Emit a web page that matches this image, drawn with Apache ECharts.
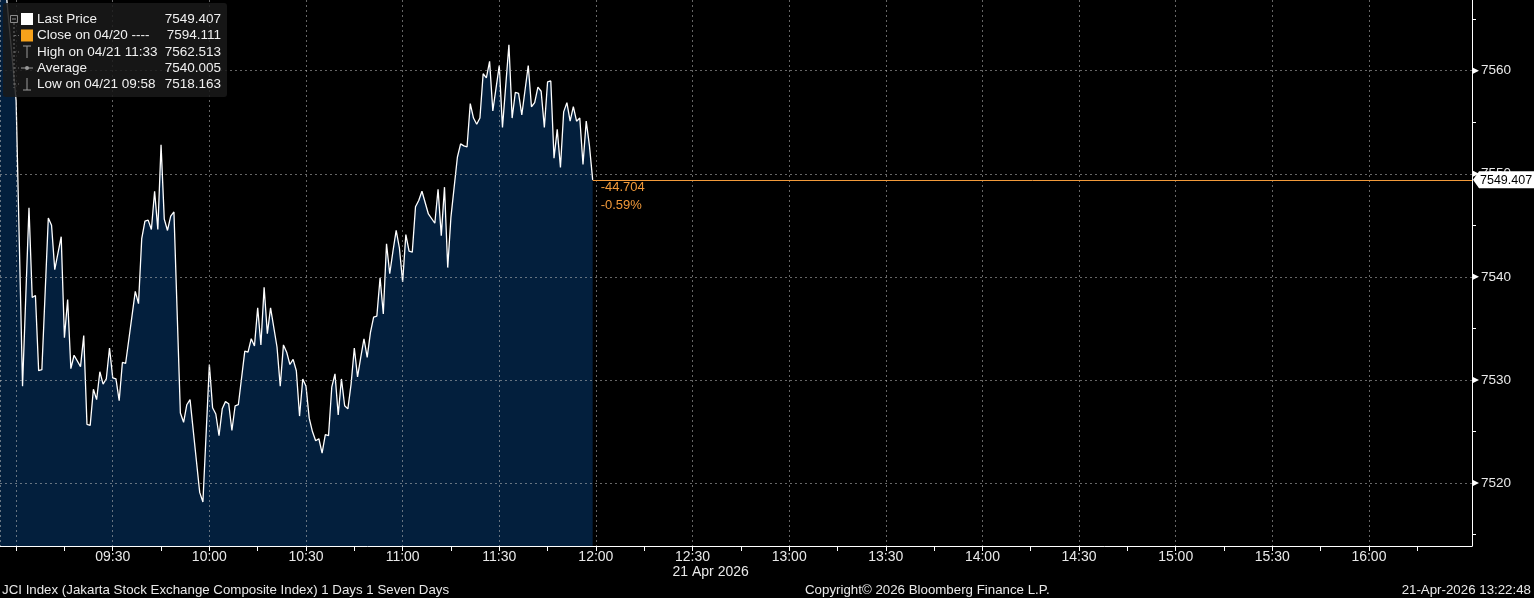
<!DOCTYPE html>
<html>
<head>
<meta charset="utf-8">
<script src="https://cdn.jsdelivr.net/npm/echarts@6/dist/echarts.min.js"></script>
<style>
html,body{margin:0;padding:0;background:#000;}
#c{width:1534px;height:598px;}
</style>
</head>
<body>
<div id="c"></div>
<script>
// ---------- data ----------
const priceTimes = [
 '08:50','09:00','09:02','09:04','09:05','09:06','09:07','09:08','09:10','09:11','09:12','09:14','09:15','09:16','09:17','09:18',
 '09:20','09:21','09:22','09:23','09:24','09:25','09:26','09:27','09:28','09:29','09:30','09:31','09:32','09:33','09:34',
 '09:37','09:38','09:39','09:40','09:41','09:42','09:43','09:44','09:45','09:46','09:47','09:48','09:49',
 '09:51','09:52','09:53','09:54','09:56','09:57','09:58',
 '10:00','10:01','10:02','10:03','10:04','10:05','10:06','10:07','10:08','10:09',
 '10:11','10:12','10:13','10:14','10:15','10:16','10:17','10:18','10:19',
 '10:21','10:22','10:23','10:24','10:25','10:26','10:27','10:28','10:29','10:30',
 '10:31','10:32','10:33','10:34','10:35','10:36','10:37','10:38','10:39','10:40',
 '10:41','10:42','10:43','10:44','10:45','10:46','10:47','10:48','10:49','10:50',
 '10:51','10:52','10:53','10:54','10:55','10:56','10:57','10:58','10:59','11:00',
 '11:01','11:02','11:03','11:04','11:05','11:06','11:08','11:10','11:11','11:12','11:13','11:14','11:15',
 '11:17','11:18','11:19','11:20','11:21','11:22','11:23','11:24','11:25','11:26','11:27','11:28',
 '11:30','11:31','11:33','11:34','11:35','11:36','11:37','11:39','11:40',
 '11:41','11:42','11:43','11:44','11:45','11:46','11:47','11:48','11:49','11:50',
 '11:51','11:52','11:53','11:54','11:55','11:56','11:57','11:58','11:59'
];
const prices = [
 7591.0,7557.1,7529.4,7546.7,7538.0,7538.2,7530.9,7531.0,7545.7,7545.0,7540.7,7543.9,7534.1,7537.8,7531.1,7532.4,
 7531.3,7534.3,7525.7,7525.6,7529.1,7528.1,7530.8,7529.6,7530.1,7533.1,7530.2,7530.1,7528.0,7531.7,7531.6,
 7538.6,7537.4,7543.7,7545.4,7545.5,7544.6,7548.3,7544.6,7552.8,7545.6,7544.5,7545.9,7546.3,
 7526.8,7525.9,7527.6,7528.1,7522.1,7519.1,7518.163,
 7531.5,7527.3,7526.7,7524.6,7527.2,7527.9,7527.7,7525.1,7527.5,7527.6,
 7532.8,7532.7,7534.0,7533.3,7537.0,7533.4,7539.0,7534.5,7537.0,
 7533.2,7529.4,7533.4,7532.7,7531.5,7532.0,7530.9,7526.5,7530.1,7529.4,
 7526.3,7525.0,7524.1,7524.3,7522.9,7524.7,7524.6,7529.3,7530.6,7526.6,
 7530.1,7527.5,7527.2,7529.6,7533.1,7530.3,7532.2,7534.0,7532.2,7534.6,
 7536.1,7536.2,7539.9,7536.4,7543.2,7540.3,7542.5,7544.5,7542.8,7539.5,
 7544.1,7542.5,7542.4,7546.8,7547.4,7548.3,7546.1,7545.2,7548.5,7544.0,7548.7,7540.9,7545.8,
 7551.6,7552.9,7552.7,7552.6,7556.8,7555.4,7554.8,7555.4,7559.7,7559.3,7560.9,7556.1,
 7560.5,7554.5,7562.513,7555.4,7557.9,7557.8,7555.7,7560.5,7556.5,
 7556.9,7558.4,7558.0,7554.5,7558.9,7559.0,7551.5,7554.3,7550.6,7556.0,
 7556.9,7555.1,7556.5,7555.1,7555.4,7550.9,7555.1,7552.7,7549.407
];
const prevClose = 7594.111;
const xAxisStart = '08:55';
const xAxisEnd = '16:32';
const xLabelTimes = ['09:30','10:00','10:30','11:00','11:30','12:00','12:30','13:00','13:30','14:00','14:30','15:00','15:30','16:00'];
const xTickTimes = ['09:00','09:15','09:30','09:45','10:00','10:15','10:30','10:45','11:00','11:15','11:30','11:45','12:00','12:15','12:30','12:45',
  '13:00','13:15','13:30','13:45','14:00','14:15','14:30','14:45','15:00','15:15','15:30','15:45','16:00','16:15'];
const xGridTimes = ['08:55','09:00','09:30','10:00','10:30','11:00','11:30','12:00','12:30','13:00','13:30','14:00','14:30','15:00','15:30','16:00'];
const yMin = 7513.9, yMax = 7566.85;
const yLabelValues = [7520,7530,7540,7550,7560];
const yMinorValues = [7515,7520,7525,7530,7535,7540,7545,7550,7555,7560,7565];
const legendRows = [
  {label:'Last Price', value:'7549.407'},
  {label:'Close on 04/20 ----', value:'7594.111'},
  {label:'High on 04/21 11:33', value:'7562.513'},
  {label:'Average', value:'7540.005'},
  {label:'Low on 04/21 09:58', value:'7518.163'}
];
const dateLabel = '21 Apr 2026';
const footerLeft = 'JCI Index (Jakarta Stock Exchange Composite Index) 1 Days 1 Seven Days';
const footerMid = 'Copyright\u00A9 2026 Bloomberg Finance L.P.';
const footerRight = '21-Apr-2026 13:22:48';

// ---------- helpers ----------
const toMin = s => { const [h,m] = s.split(':').map(Number); return h*60+m; };
const fmt = v => { const h = Math.floor(v/60), m = Math.round(v - h*60); return String(h).padStart(2,'0')+':'+String(m).padStart(2,'0'); };
const FONT = '"Liberation Sans", Arial, sans-serif';
const ORANGE = '#f29a3a';

const seriesData = priceTimes.map((t,i)=>[toMin(t), prices[i]]);
const lastT = toMin(priceTimes[priceTimes.length-1]);
const lastV = prices[prices.length-1];
const xMin = toMin(xAxisStart), xMax = toMin(xAxisEnd);

const chart = echarts.init(document.getElementById('c'), null, {renderer:'canvas'});
chart.setOption({
  backgroundColor:'#000',
  animation:false,
  grid:{left:0, right:62, top:0, bottom:52, containLabel:false},
  xAxis:[{
    type:'value', min:xMin, max:xMax, position:'bottom',
    axisLine:{show:true, lineStyle:{color:'#ffffff', width:1}},
    axisTick:{show:true, length:5, customValues:xTickTimes.map(toMin), lineStyle:{color:'#ffffff'}},
    axisLabel:{show:true, customValues:xLabelTimes.map(toMin), formatter:v=>fmt(v), color:'#e8e8e8', fontSize:14, fontFamily:FONT, margin:4},
    splitLine:{show:false}
  },{
    type:'value', min:xMin, max:xMax, position:'top', z:3,
    axisLine:{show:false}, axisLabel:{show:false},
    axisTick:{show:false, customValues:xGridTimes.map(toMin)},
    splitLine:{show:true, lineStyle:{color:'rgba(185,185,185,0.55)', width:1, type:[2,3]}}
  }],
  yAxis:[{
    type:'value', min:yMin, max:yMax, position:'right',
    axisLine:{show:true, lineStyle:{color:'#ffffff', width:1}},
    axisTick:{show:true, inside:false, length:4, customValues:yMinorValues, lineStyle:{color:'#ffffff'}},
    axisLabel:{show:true, customValues:yLabelValues, color:'#e8e8e8', fontSize:13.5, fontFamily:FONT, margin:9, formatter:v=>String(Math.round(v))},
    splitLine:{show:false}
  },{
    type:'value', min:yMin, max:yMax, position:'left', z:3,
    axisLine:{show:false}, axisLabel:{show:false},
    axisTick:{show:false, customValues:yLabelValues},
    splitLine:{show:true, lineStyle:{color:'rgba(185,185,185,0.55)', width:1, type:[2,3]}}
  }],
  series:[{
    type:'line', xAxisIndex:0, yAxisIndex:0, data:seriesData,
    showSymbol:false, symbol:'none', smooth:false, clip:true, z:2,
    lineStyle:{color:'#ffffff', width:1.3},
    areaStyle:{color:'#031f3d', opacity:1},
    markLine:{
      silent:true, symbol:['none','none'], animation:false,
      lineStyle:{color:ORANGE, width:1, type:'solid'},
      label:{show:false},
      data:[[{coord:[lastT,lastV]},{coord:[xMax,lastV]}]]
    }
  }]
});

// ---------- overlay graphics positioned via the chart's scales ----------
const P = (x,y) => chart.convertToPixel({xAxisIndex:0, yAxisIndex:0}, [x,y]);
const g = [];
const [, yLast] = P(lastT, lastV);
const [xLastPt] = P(lastT, lastV);
const [xRight] = P(xMax, lastV);

// major tick arrows on the right axis
yLabelValues.forEach(v=>{
  const [, y] = P(xMin, v);
  g.push({type:'polygon', z:50, shape:{points:[[xRight, y-3.5],[xRight, y+3.5],[xRight+7, y]]}, style:{fill:'#ffffff'}});
});

// last price label box
g.push({type:'polygon', z:100, shape:{points:[[xRight+1, yLast],[xRight+7, yLast-8.5],[1534, yLast-8.5],[1534, yLast+8.5],[xRight+7, yLast+8.5]]}, style:{fill:'#ffffff'}});
g.push({type:'text', z:101, x:xRight+8, y:yLast+0.5, style:{text:lastV.toFixed(3), fill:'#000', font:'12.5px '+FONT, verticalAlign:'middle'}});

// change labels
const chg = lastV - prevClose;
g.push({type:'text', z:101, x:xLastPt+8, y:yLast+8, style:{text:chg.toFixed(3), fill:ORANGE, font:'13px '+FONT, verticalAlign:'middle'}});
g.push({type:'text', z:101, x:xLastPt+8, y:yLast+26, style:{text:(chg/prevClose*100).toFixed(2)+'%', fill:ORANGE, font:'13px '+FONT, verticalAlign:'middle'}});

// date label under 12:30
const [x1230] = P(toMin('12:30'), yMin);
g.push({type:'text', z:101, x:x1230-20, y:572, style:{text:dateLabel, fill:'#e8e8e8', font:'14px '+FONT, verticalAlign:'middle'}});

// footer
g.push({type:'text', z:101, x:2, y:590, style:{text:footerLeft, fill:'#e8e8e8', font:'13.3px '+FONT, verticalAlign:'middle'}});
g.push({type:'text', z:101, x:805, y:590, style:{text:footerMid, fill:'#e8e8e8', font:'13.3px '+FONT, verticalAlign:'middle'}});
g.push({type:'text', z:101, x:1531, y:590, style:{text:footerRight, fill:'#e8e8e8', font:'13.3px '+FONT, verticalAlign:'middle', align:'right'}});

// legend box
g.push({type:'rect', z:100, shape:{x:3, y:3, width:224, height:94, r:3}, style:{fill:'rgba(26,26,26,0.86)'}});
const rowY = [19, 35.5, 52, 68, 84];
// tree connector
g.push({type:'rect', z:101, shape:{x:10.5, y:15.5, width:7, height:7}, style:{fill:'none', stroke:'#8a8a8a', lineWidth:1}});
g.push({type:'line', z:101, shape:{x1:12, y1:19, x2:16, y2:19}, style:{stroke:'#8a8a8a', lineWidth:1}});
g.push({type:'line', z:101, shape:{x1:14, y1:23, x2:14, y2:88}, style:{stroke:'#6a6a6a', lineWidth:1, lineDash:[2,2]}});
rowY.slice(1).forEach(y=> g.push({type:'line', z:101, shape:{x1:14, y1:y, x2:19, y2:y}, style:{stroke:'#6a6a6a', lineWidth:1, lineDash:[2,2]}}));
// icons
g.push({type:'rect', z:101, shape:{x:21, y:13, width:12, height:12}, style:{fill:'#ffffff'}});
g.push({type:'rect', z:101, shape:{x:21, y:29.5, width:12, height:12}, style:{fill:'#f7a21b'}});
g.push({type:'line', z:101, shape:{x1:27, y1:46, x2:27, y2:58}, style:{stroke:'#9a9a9a', lineWidth:1}});
g.push({type:'line', z:101, shape:{x1:23, y1:46, x2:31, y2:46}, style:{stroke:'#9a9a9a', lineWidth:1}});
g.push({type:'line', z:101, shape:{x1:21, y1:68, x2:33, y2:68}, style:{stroke:'#9a9a9a', lineWidth:1}});
g.push({type:'circle', z:101, shape:{cx:27, cy:68, r:2}, style:{fill:'#9a9a9a'}});
g.push({type:'line', z:101, shape:{x1:27, y1:78, x2:27, y2:90}, style:{stroke:'#9a9a9a', lineWidth:1}});
g.push({type:'line', z:101, shape:{x1:23, y1:90, x2:31, y2:90}, style:{stroke:'#9a9a9a', lineWidth:1}});
legendRows.forEach((r,i)=>{
  g.push({type:'text', z:101, x:37, y:rowY[i], style:{text:r.label, fill:'#f0f0f0', font:'13.5px '+FONT, verticalAlign:'middle'}});
  g.push({type:'text', z:101, x:221, y:rowY[i], style:{text:r.value, fill:'#f0f0f0', font:'13.5px '+FONT, verticalAlign:'middle', align:'right'}});
});

chart.setOption({graphic:{elements:g}});
</script>
</body>
</html>
